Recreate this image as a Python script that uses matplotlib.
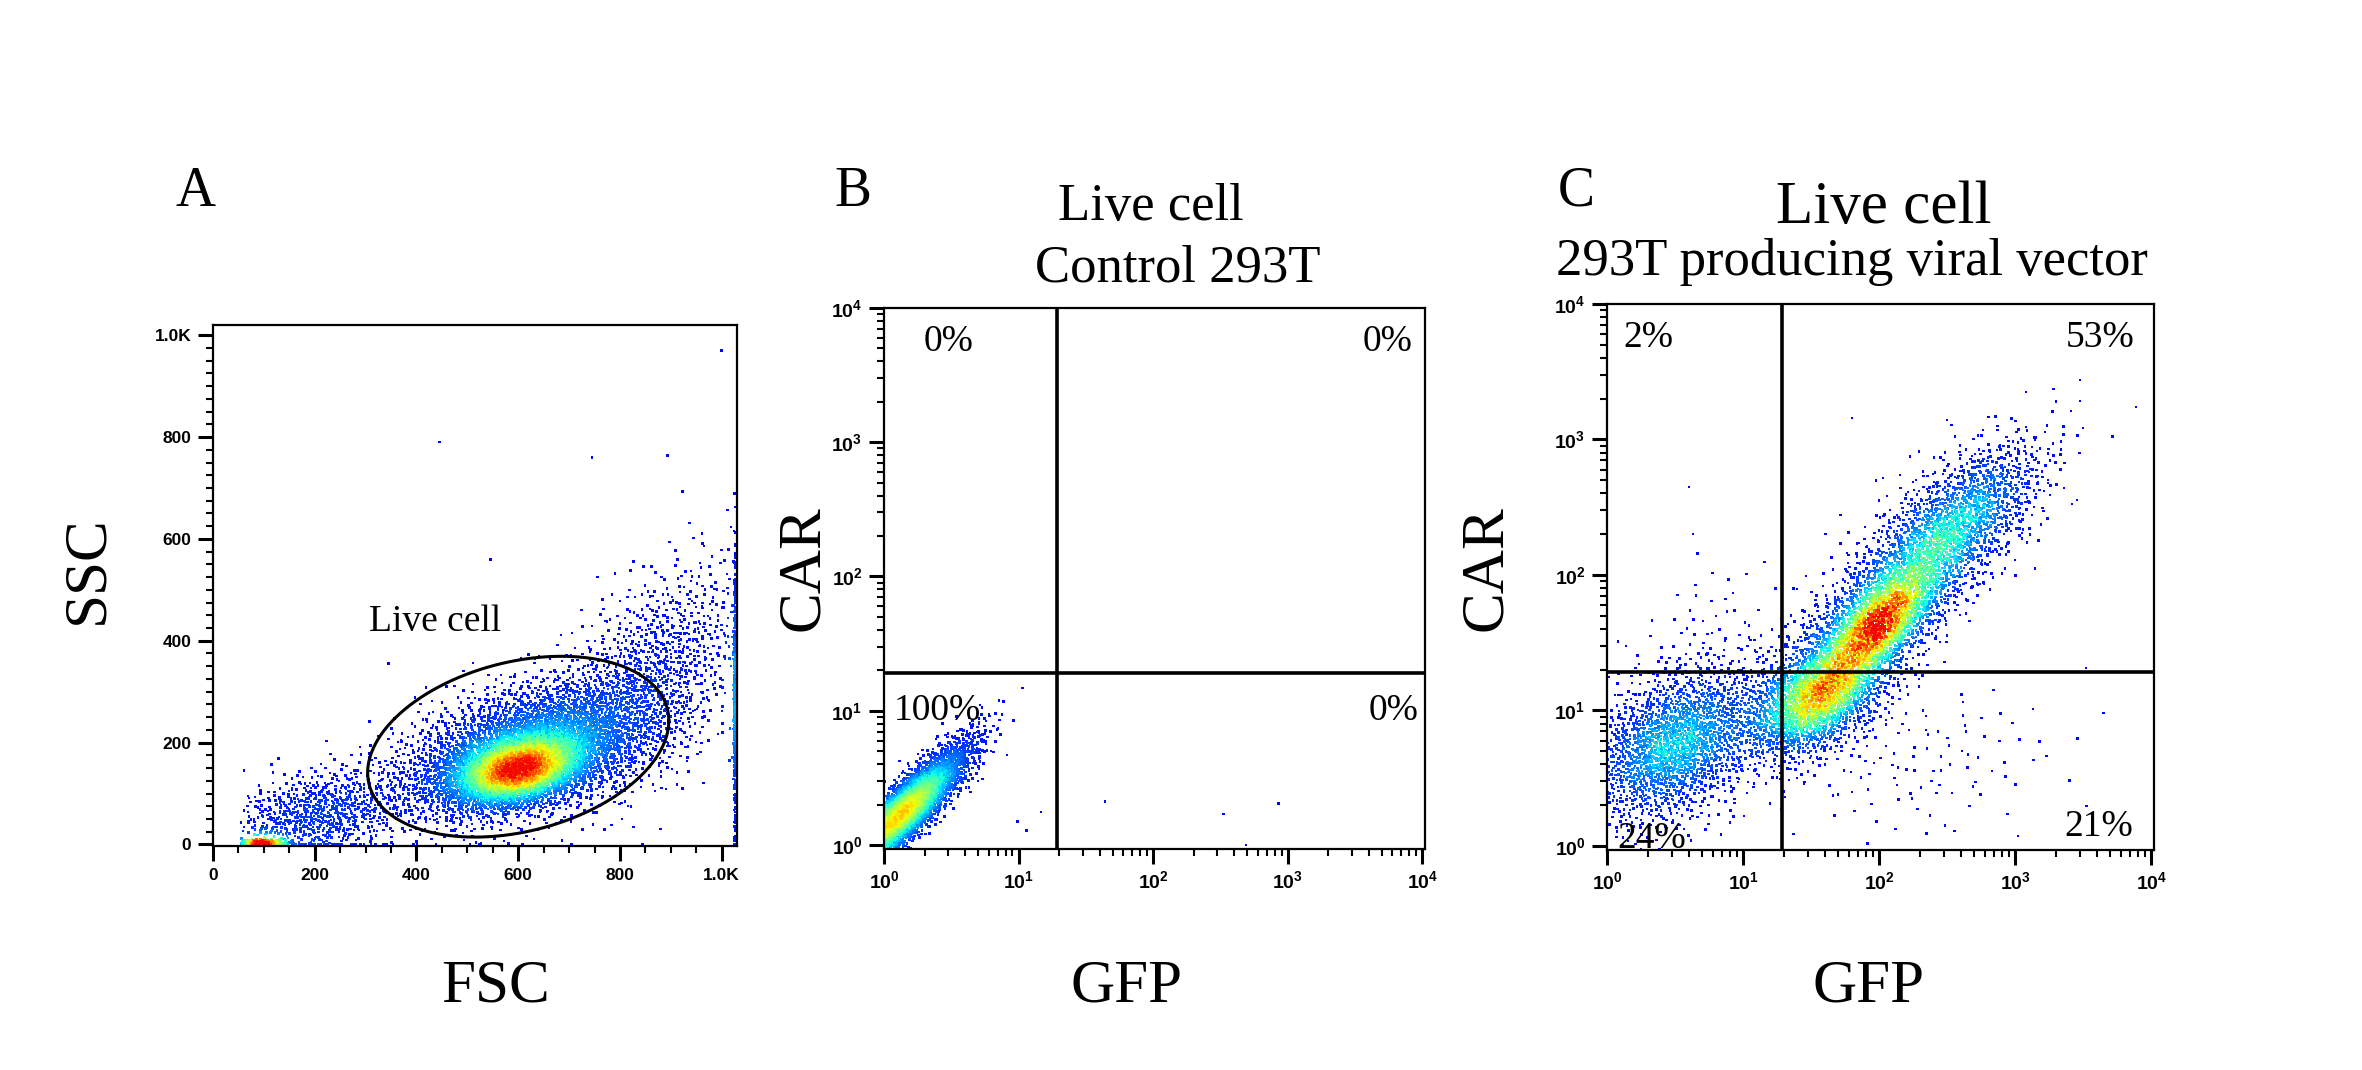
import numpy as np
import matplotlib
matplotlib.use("Agg")
import matplotlib.pyplot as plt
from matplotlib.colors import LinearSegmentedColormap
from matplotlib.ticker import MultipleLocator, LogLocator, NullFormatter

plt.rcParams['font.family'] = ['Liberation Serif', 'DejaVu Serif']

# --------------------------
# PANEL A : FSC / SSC populations
# centre, spread, correlation and number of events of each population
# --------------------------
a_names = ["live core", "live body", "upper tail", "debris", "debris floor", "saturated FSC"]
a_cx = [598, 630, 860, 210, 95, 1026]
a_cy = [145, 190, 330, 60, 3, 270]
a_sx = [70, 130, 100, 95, 25, 1.2]
a_sy = [36, 68, 115, 45, 3, 120]
a_rho = [0.35, 0.45, 0.55, 0.35, 0.0, 0.0]
a_n = [3000, 3800, 1000, 800, 300, 360]
a_out_x = [445, 1000, 745, 880, 345, 545]
a_out_y = [790, 970, 760, 30, 355, 560]

gate_center = (600, 192)
gate_u = (296, 51)
gate_v = (0, 170)

a_ticks = [0, 200, 400, 600, 800, 1000]
a_tick_labels = ["0", "200", "400", "600", "800", "1.0K"]

# --------------------------
# PANEL B : control 293T (log10 GFP, log10 CAR)
# --------------------------
b_cx = [0.12, 0.45]
b_cy = [0.22, 0.55]
b_sx = [0.22, 0.18]
b_sy = [0.22, 0.2]
b_rho = [0.86, 0.8]
b_n = [4000, 400]
b_out_x = [9.8, 11.5, 14.7, 44, 333, 857, 490, 4.6, 5.3, 4.2]
b_out_y = [1.5, 1.28, 1.76, 2.1, 1.7, 2.04, 1.0, 7.9, 6.1, 5.2]
b_pct = ["0%", "0%", "100%", "0%"]

# --------------------------
# PANEL C : 293T producing viral vector (log10 GFP, log10 CAR)
# --------------------------
c_names = ["GFP-CAR-", "GFP+ low", "core", "band", "upper", "high", "GFP+CAR-", "CAR+GFP-"]
c_cx = [0.5, 1.55, 2.0, 2.1, 2.45, 2.75, 2.3, 0.8]
c_cy = [0.75, 1.08, 1.6, 1.85, 2.3, 2.55, 0.6, 1.6]
c_sx = [0.34, 0.26, 0.22, 0.45, 0.3, 0.26, 0.55, 0.3]
c_sy = [0.3, 0.22, 0.22, 0.45, 0.3, 0.25, 0.3, 0.3]
c_rho = [0.4, 0.45, 0.6, 0.84, 0.5, 0.55, 0.2, 0.3]
c_n = [1900, 1700, 1100, 2200, 600, 400, 110, 50]
c_out_x = [63, 4.0, 4.3, 7700, 2000, 5200]
c_out_y = [1440, 447, 200, 1740, 1900, 1050]
c_pct = ["2%", "53%", "24%", "21%"]

quad_gate = 19.2
log_ticks = [1, 10, 100, 1000, 10000]
log_tick_labels = [r"$\mathregular{10^{%d}}$" % k for k in range(5)]


# --------------------------
# helpers
# --------------------------
def halton(n, base, start):
    i = np.arange(start, start + n)
    out = np.zeros(n)
    f = 1.0
    while np.any(i > 0):
        f /= base
        out += f * (i % base)
        i = i // base
    return out


def population(cx, cy, sx, sy, rho, n, start):
    # deterministic low-discrepancy gaussian cloud
    u1 = halton(n, 2, start)
    u2 = halton(n, 3, start)
    r = np.sqrt(-2 * np.log(u1))
    z1 = r * np.cos(2 * np.pi * u2)
    z2 = r * np.sin(2 * np.pi * u2)
    x = cx + sx * z1
    y = cy + sy * (rho * z1 + np.sqrt(1 - rho ** 2) * z2)
    return x, y


def build(cx, cy, sx, sy, rho, n):
    xs, ys = [], []
    for k in range(len(cx)):
        x, y = population(cx[k], cy[k], sx[k], sy[k], rho[k], n[k], 1 + 7919 * (k + 1))
        xs.append(x)
        ys.append(y)
    return np.concatenate(xs), np.concatenate(ys)


def density(u, v, ur, vr, nb):
    Hm, _, _ = np.histogram2d(u, v, bins=nb, range=[ur, vr])
    for _ in range(2):
        P = np.pad(Hm, 1, mode='edge')
        Hm = (P[:-2, 1:-1] + P[2:, 1:-1] + P[1:-1, :-2] + P[1:-1, 2:] + 4 * P[1:-1, 1:-1]) / 8.0
    # bilinear lookup
    fu = np.clip((u - ur[0]) / (ur[1] - ur[0]) * nb - 0.5, 0, nb - 1.001)
    fv = np.clip((v - vr[0]) / (vr[1] - vr[0]) * nb - 0.5, 0, nb - 1.001)
    i0, j0 = fu.astype(int), fv.astype(int)
    wu, wv = fu - i0, fv - j0
    return ((1 - wu) * (1 - wv) * Hm[i0, j0] + wu * (1 - wv) * Hm[i0 + 1, j0]
            + (1 - wu) * wv * Hm[i0, j0 + 1] + wu * wv * Hm[i0 + 1, j0 + 1])


jet = plt.get_cmap('jet')
flow_cmap = LinearSegmentedColormap.from_list('flow', jet(np.linspace(0.13, 0.9, 256)))


def dot_plot(ax, x, y, u, v, ur, vr, gamma, top=1.0, nb=80):
    d = density(u, v, ur, vr, nb)
    c = top * (d / d.max()) ** gamma
    # speckle of the pseudo-colour display
    c = np.clip(c * (1 + 0.5 * (halton(len(c), 5, 11) - 0.5)), 0, 1)
    order = np.argsort(c)
    ax.scatter(x[order], y[order], c=c[order], cmap=flow_cmap, vmin=0, vmax=1,
               s=3.4, marker='s', linewidths=0, zorder=2)


def style_axes(ax, size):
    for s in ax.spines.values():
        s.set_linewidth(1.6)
    ax.tick_params(which='major', direction='out', length=10.5, width=2.2, pad=5,
                   labelsize=size, labelfontfamily='Liberation Sans')
    ax.tick_params(which='minor', direction='out', length=5, width=1.5)


W, H = 2362, 1070
fig = plt.figure(figsize=(W / 100, H / 100), dpi=100)


def box(l, r, t, b):
    return [l / W, 1 - b / H, (r - l) / W, (b - t) / H]


def ftext(px, py, s, **kw):
    fig.text(px / W, 1 - py / H, s, **kw)


# --------------------------
# PANEL A
# --------------------------
axA = fig.add_axes(box(213, 737, 325, 846))
ax_x, ax_y = build(a_cx, a_cy, a_sx, a_sy, a_rho, a_n)
keep = ax_x > 55
ax_x = np.clip(ax_x[keep], 55, 1026)
ax_y = np.clip(ax_y[keep], 0.5, 1015)
ax_x = np.concatenate([ax_x, a_out_x])
ax_y = np.concatenate([ax_y, a_out_y])
dot_plot(axA, ax_x, ax_y, ax_x, ax_y, [0, 1030], [0, 1020], gamma=1.25, nb=70)

t = np.linspace(0, 2 * np.pi, 300)
axA.plot(gate_center[0] + gate_u[0] * np.cos(t) + gate_v[0] * np.sin(t),
         gate_center[1] + gate_u[1] * np.cos(t) + gate_v[1] * np.sin(t),
         color='black', lw=2.2, zorder=3)
axA.text(307, 419, "Live cell", fontsize=27, ha='left', va='baseline', zorder=4)

axA.set_xlim(0, 1030)
axA.set_ylim(-3, 1020)
axA.set_xticks(a_ticks)
axA.set_xticklabels(a_tick_labels)
axA.set_yticks(a_ticks)
axA.set_yticklabels(a_tick_labels)
axA.xaxis.set_minor_locator(MultipleLocator(50))
axA.yaxis.set_minor_locator(MultipleLocator(25))
style_axes(axA, 12.5)


# --------------------------
# PANELS B and C
# --------------------------
def log_panel(rect, x, y, pct, pct_pos, gamma, top):
    ax = fig.add_axes(rect)
    ax.set_xscale('log')
    ax.set_yscale('log')
    keep = (x > 0) & (y > 0)
    x, y = x[keep], y[keep]
    dot_plot(ax, x, y, np.log10(x), np.log10(y), [0, 4.02], [-0.03, 4.0], gamma, top)
    ax.axvline(quad_gate, color='black', lw=2.6, zorder=3)
    ax.axhline(quad_gate, color='black', lw=2.6, zorder=3)
    ax.set_xlim(1, 10 ** 4.02)
    ax.set_ylim(10 ** -0.03, 10 ** 4.0)
    ax.set_xticks(log_ticks)
    ax.set_xticklabels(log_tick_labels)
    ax.set_yticks(log_ticks)
    ax.set_yticklabels(log_tick_labels)
    for axis in (ax.xaxis, ax.yaxis):
        axis.set_minor_locator(LogLocator(base=10, subs=np.arange(2, 10), numticks=20))
        axis.set_minor_formatter(NullFormatter())
    style_axes(ax, 14)
    for s, (px, py) in zip(pct, pct_pos):
        ax.text(px, py, s, transform=ax.transAxes, fontsize=27, ha='center', va='baseline', zorder=4)
    return ax


bx, by = build(b_cx, b_cy, b_sx, b_sy, b_rho, b_n)
bx, by = 10 ** bx, 10 ** by
bx = np.concatenate([bx, b_out_x])
by = np.concatenate([by, b_out_y])
axB = log_panel(box(884, 1425, 308, 849), bx, by, b_pct,
                [(0.120, 0.920), (0.930, 0.920), (0.098, 0.238), (0.941, 0.238)],
                gamma=1.1, top=0.62)

cx_, cy_ = build(c_cx, c_cy, c_sx, c_sy, c_rho, c_n)
cx_, cy_ = 10 ** cx_, 10 ** cy_
cx_ = np.concatenate([cx_, c_out_x])
cy_ = np.concatenate([cy_, c_out_y])
axC = log_panel(box(1607, 2154, 304, 850), cx_, cy_, c_pct,
                [(0.075, 0.921), (0.901, 0.921), (0.082, 0.004), (0.899, 0.026)],
                gamma=1.55, top=1.0)

# --------------------------
# TEXT
# --------------------------
ftext(196, 206, "A", fontsize=40, ha='center', va='baseline')
ftext(853, 206, "B", fontsize=40, ha='center', va='baseline')
ftext(1576, 206, "C", fontsize=40, ha='center', va='baseline')

ftext(1151, 220, "Live cell", fontsize=38, ha='center', va='baseline')
ftext(1178, 281, "Control 293T", fontsize=38, ha='center', va='baseline')
ftext(1884, 223, "Live cell", fontsize=44, ha='center', va='baseline')
ftext(1852, 275, "293T producing viral vector", fontsize=38, ha='center', va='baseline')

ftext(88, 570, "SSC", fontsize=44, rotation=90, ha='center', va='center')
ftext(803, 568, "CAR", fontsize=44, rotation=90, ha='center', va='center')
ftext(1486, 568, "CAR", fontsize=44, rotation=90, ha='center', va='center')
ftext(496, 1001, "FSC", fontsize=44, ha='center', va='baseline')
ftext(1127, 1001, "GFP", fontsize=44, ha='center', va='baseline')
ftext(1869, 1001, "GFP", fontsize=44, ha='center', va='baseline')

# bold tick labels like the cytometer software
fig.canvas.draw()
for ax in (axA, axB, axC):
    for lab in ax.get_xticklabels() + ax.get_yticklabels():
        lab.set_fontweight('bold')

fig.savefig("out.png", dpi=100, facecolor='white')
